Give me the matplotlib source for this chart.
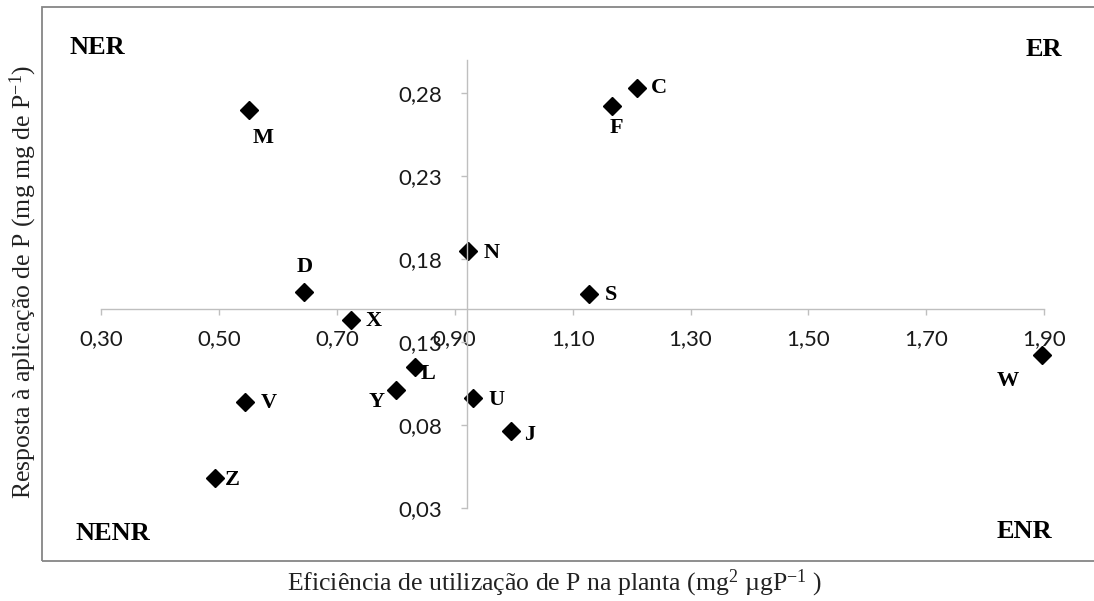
import matplotlib
matplotlib.use('Agg')
import matplotlib.pyplot as plt
from matplotlib.patches import Rectangle

# genotypes and their values
names = ['M', 'C', 'F', 'N', 'D', 'S', 'X', 'L', 'Y', 'U', 'V', 'J', 'Z', 'W']
eficiencia = [0.551, 1.209, 1.166, 0.923, 0.644, 1.128, 0.724, 0.833, 0.801, 0.931, 0.545, 0.995, 0.494, 1.896]
resposta = [0.270, 0.283, 0.272, 0.185, 0.160, 0.159, 0.143, 0.115, 0.101, 0.096, 0.094, 0.076, 0.048, 0.122]

x_ticks = [0.30, 0.50, 0.70, 0.90, 1.10, 1.30, 1.50, 1.70, 1.90]
y_ticks = [0.03, 0.08, 0.13, 0.18, 0.23, 0.28]

# where the axes cross (averages)
x_cross = 0.92
y_cross = 0.15

# label offsets in pixels (dx, dy), dy up
label_offsets = {'M': (14, -28), 'C': (22, 0), 'F': (5, -22), 'N': (23, -2), 'D': (1, 25),
                 'S': (22, -1), 'X': (23, -1), 'L': (13, -7), 'Y': (-20, -12), 'U': (23, -2),
                 'V': (23, -1), 'J': (19, -4), 'Z': (17, -2), 'W': (-34, -26)}

plt.rcParams['mathtext.default'] = 'regular'
serif = 'Liberation Serif'
tick_font = 'Lato'

fig = plt.figure(figsize=(10.94, 6.01), dpi=100)
ax = fig.add_axes([0.0923, 0.1554, 0.8623, 0.7448])

ax.plot(eficiencia, resposta, ls='none', marker='D', ms=9.5, color='black', clip_on=False)

for n, x, y in zip(names, eficiencia, resposta):
    dx, dy = label_offsets[n]
    ax.annotate(n, (x, y), xytext=(dx, dy), textcoords='offset pixels', ha='center', va='center',
                fontfamily=serif, fontweight='bold', fontsize=16, color='black')

ax.set_xlim(0.30, 1.90)
ax.set_ylim(0.03, 0.30)

# axes cross in the middle, like excel
ax.spines['left'].set_position(('data', x_cross))
ax.spines['bottom'].set_position(('data', y_cross))
ax.spines['top'].set_visible(False)
ax.spines['right'].set_visible(False)
for s in ['left', 'bottom']:
    ax.spines[s].set_color('#BFBFBF')
    ax.spines[s].set_linewidth(1.0)

ax.set_xticks(x_ticks)
ax.set_xticklabels([f'{v:.2f}'.replace('.', ',') for v in x_ticks])
ax.set_yticks(y_ticks)
ax.set_yticklabels([f'{v:.2f}'.replace('.', ',') for v in y_ticks])
ax.tick_params(axis='x', direction='out', length=4.5, width=1, color='#BFBFBF', pad=10,
               labelsize=16, labelcolor='#1a1a1a')
ax.tick_params(axis='y', direction='out', length=4.5, width=1, color='#BFBFBF', pad=13,
               labelsize=16, labelcolor='#1a1a1a')
for lab in ax.get_xticklabels() + ax.get_yticklabels():
    lab.set_fontfamily(tick_font)

ax.patch.set_visible(False)

# quadrant names
fig.text(70 / 1094, 1 - 48 / 601, 'NER', ha='left', va='center', fontfamily=serif, fontweight='bold', fontsize=19)
fig.text(1062 / 1094, 1 - 50 / 601, 'ER', ha='right', va='center', fontfamily=serif, fontweight='bold', fontsize=19)
fig.text(76 / 1094, 1 - 534 / 601, 'NENR', ha='left', va='center', fontfamily=serif, fontweight='bold', fontsize=19)
fig.text(1052 / 1094, 1 - 532 / 601, 'ENR', ha='right', va='center', fontfamily=serif, fontweight='bold', fontsize=19)

# axis titles
fig.text(555 / 1094, 1 - 583 / 601, 'Eficiência de utilização de P na planta (mg$^{2}$ µgP$^{-1}$ )',
         ha='center', va='center', fontfamily=serif, fontsize=18.5, color='#222222')
fig.text(23 / 1094, 1 - 282 / 601, 'Resposta à aplicação de P (mg mg de P$^{-1}$)', rotation=90,
         ha='center', va='center', fontfamily=serif, fontsize=18.5, color='#222222')

# outer frame of the chart area
fig.add_artist(Rectangle((42 / 1094, 40 / 601), 1.0, 554 / 601, transform=fig.transFigure,
                         fill=False, ec='#868686', lw=1.3))

fig.savefig('out.png', dpi=100)
